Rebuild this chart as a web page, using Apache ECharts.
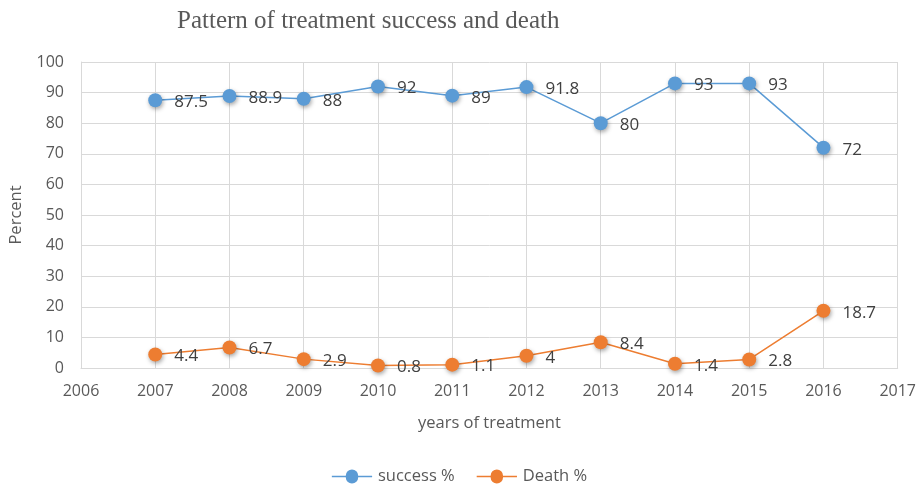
<!DOCTYPE html>
<html><head><meta charset="utf-8">
<script src="https://cdn.jsdelivr.net/npm/echarts@6/dist/echarts.min.js"></script>
<style>html,body{margin:0;padding:0;background:#fff}#c{width:919px;height:486px}</style>
</head><body><div id="c"></div>
<script>
const years = [2007, 2008, 2009, 2010, 2011, 2012, 2013, 2014, 2015, 2016];
const success = [87.5, 88.9, 88, 92, 89, 91.8, 80, 93, 93, 72];
const death = [4.4, 6.7, 2.9, 0.8, 1.1, 4, 8.4, 1.4, 2.8, 18.7];
const seriesNames = ['success %', 'Death %'];
const colors = ['#5B9BD5', '#ED7D31'];
const FF = 'Open Sans, Calibri, sans-serif';

const chart = echarts.init(document.getElementById('c'));
function mk(name, vals, color) {
  return {
    name: name, type: 'line',
    data: years.map((y, i) => [y, vals[i]]),
    symbol: 'circle', symbolSize: 14,
    lineStyle: { color: color, width: 1.5 },
    itemStyle: { color: color, shadowColor: 'rgba(0,0,0,0.35)', shadowBlur: 4, shadowOffsetX: 1, shadowOffsetY: 2 },
    label: { show: true, position: 'right', distance: 12, offset: [0, 2], color: '#404040', fontSize: 17, fontFamily: FF, formatter: p => String(p.value[1]) },
    emphasis: { disabled: true },
    animation: false
  };
}
chart.setOption({
  animation: false,
  title: { text: 'Pattern of treatment success and death', left: 172, top: 4,
    textStyle: { fontFamily: 'Liberation Serif, serif', fontWeight: 'normal', fontSize: 25, color: '#595959' } },
  grid: { left: 80, right: 21, top: 62, bottom: 118 },
  legend: { bottom: -4, left: 'center', itemGap: 22, itemWidth: 42, itemHeight: 14,
    icon: 'path://M0,6.2L14.5,6.2A6.5,6.5 0 1,1 27.5,6.2L42,6.2L42,7.8L27.5,7.8A6.5,6.5 0 1,1 14.5,7.8L0,7.8Z',
    textStyle: { color: '#595959', fontSize: 16.5, fontFamily: FF },
    data: seriesNames },
  xAxis: { type: 'value', min: 2006, max: 2017, interval: 1,
    name: 'years of treatment', nameLocation: 'middle', nameGap: 47,
    nameTextStyle: { color: '#595959', fontSize: 16.5, fontFamily: FF },
    axisLine: { show: true, lineStyle: { color: '#d9d9d9' } }, axisTick: { show: false },
    axisLabel: { color: '#595959', fontSize: 16, margin: 15, fontFamily: FF, formatter: v => String(v) },
    splitLine: { show: true, lineStyle: { color: '#d9d9d9' } } },
  yAxis: { type: 'value', min: 0, max: 100, interval: 10,
    name: 'Percent', nameLocation: 'middle', nameGap: 56,
    nameTextStyle: { color: '#595959', fontSize: 16.5, fontFamily: FF },
    axisLine: { show: true, lineStyle: { color: '#d9d9d9' } }, axisTick: { show: false },
    axisLabel: { color: '#595959', fontSize: 16, margin: 17, fontFamily: FF },
    splitLine: { show: true, lineStyle: { color: '#d9d9d9' } } },
  series: [mk(seriesNames[0], success, colors[0]), mk(seriesNames[1], death, colors[1])]
});
</script></body></html>
